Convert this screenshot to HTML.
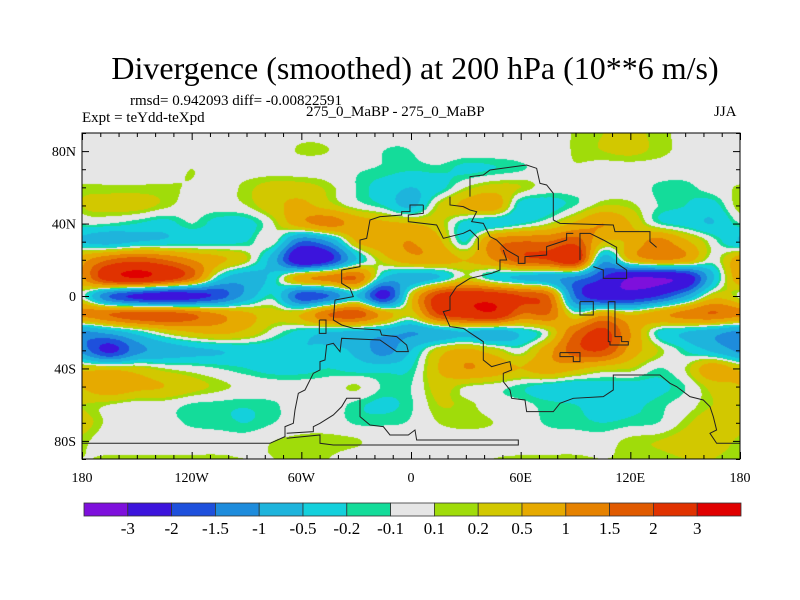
<!DOCTYPE html>
<html><head><meta charset="utf-8">
<style>
body{margin:0;background:#fff;width:800px;height:600px;overflow:hidden;position:relative;font-family:"Liberation Serif",serif;}
.t{position:absolute;white-space:nowrap;color:#000;}
canvas{position:absolute;left:82px;top:133px;}
svg{position:absolute;left:0;top:0;}
</style></head><body>
<div class="t" style="left:0;width:830px;text-align:center;top:50px;font-size:32px;">Divergence (smoothed) at 200 hPa (10**6 m/s)</div>
<div class="t" style="left:130px;top:93px;font-size:15px;">rmsd= 0.942093 diff= -0.00822591</div>
<div class="t" style="left:82px;top:110px;font-size:15px;">Expt = teYdd-teXpd</div>
<div class="t" style="left:306px;top:104px;font-size:15px;">275_0_MaBP - 275_0_MaBP</div>
<div class="t" style="left:714px;top:104px;font-size:15px;">JJA</div>
<canvas id="map" width="658" height="326"></canvas>
<svg id="ov" width="800" height="600"></svg>
<script>
const lats=[90,80,70,60,50,40,30,20,10,0,-10,-20,-30,-40,-50,-60,-70,-80,-90];
const lons=[-180,-165,-150,-135,-120,-105,-90,-75,-60,-45,-30,-15,0,15,30,45,60,75,90,105,120,135,150,165];
const row90=[0,0,0,0,0,0,0,0,0.05,0.05,0,-0.05,-0.05,0,0,0,0,0,0.12,0.2,0.25,0.15,0.05,0];
const row80=[0,0,0,0,0,0,0,0,0.12,0.1,0,-0.1,-0.1,0.05,0,0,0,0,0.12,0.2,0.25,0.15,0.05,0];
const row70=[0,0,0,0,0.1,0,0,0,0,0,-0.08,-0.12,-0.18,-0.15,-0.25,-0.2,-0.12,0,0.08,0,0,0,0,0];
const row60=[0.12,0.12,0.12,0.12,0.08,0,0.15,0.3,0.3,0.15,-0.1,-0.3,-0.5,-0.3,0.1,0.3,0.2,0,0,0,0,-0.12,-0.15,0];
const row50=[0.2,0.3,0.3,0.15,0,0,0.1,0.4,0.6,0.3,0,-0.2,-0.6,0.2,0.6,0.8,-0.3,-0.3,-0.1,0.2,0.15,-0.1,-0.2,-0.3];
const row40=[-0.1,-0.1,-0.2,-0.3,-0.1,-0.3,-0.3,0.1,0.8,1.2,0.8,0.6,0.5,0.3,-0.3,-0.4,-0.2,0.1,0.6,1.0,0.5,-0.1,-0.3,-0.5];
const row30=[-0.5,-0.7,-0.5,-0.4,-0.3,-0.3,-0.2,0,-1.5,-1.0,0.5,0.8,1.0,0.6,-0.2,1.2,1.5,1.5,1.8,0.5,0.6,1.2,0.6,0];
const row20=[0.8,1.5,1.8,1.5,1.0,0.6,0.2,-0.8,-2.8,-2.2,-0.5,0.3,0.8,0.8,0.5,1.0,1.8,2.0,2.5,-0.8,0.5,1.0,0.8,0];
const row10=[0.9,2.5,3.0,2.5,1.5,-0.3,-0.8,-0.3,0.8,1.2,1.5,-0.5,-0.8,-0.5,0.2,-0.3,-0.6,-0.8,-1.2,-2.0,-3.0,-3.0,-2.6,-0.6];
const row0=[0,-1.5,-2.2,-2.5,-2.3,-1.8,-0.8,-0.2,-1.8,-1.5,-0.5,-2.3,0.3,2.2,2.6,2.5,2.0,1.5,-1.5,-2.5,-2.5,-2.0,-1.0,0.3];
const rowS10=[1.2,1.5,1.8,1.8,1.5,1.0,0.6,0.3,0.5,1.5,1.8,0.8,0.3,2.0,2.5,2.8,1.5,1.5,0.1,0.8,0.4,0.8,1.2,1.5];
const rowS20=[-1.1,-0.8,-0.3,0.2,0.5,0.6,0.4,0,-0.3,-0.5,-0.6,-0.8,-1.0,-0.8,-0.5,-0.8,-0.4,0.1,1.5,2.2,1.0,-0.2,-0.5,-0.8];
const rowS30=[-1.2,-2.2,-1.2,-0.8,-0.6,-0.5,-0.4,-0.4,-0.5,-0.4,-0.6,-1.2,-0.5,0.3,0.6,0.3,0,0.8,1.8,2.0,0.8,0.2,-0.2,-0.6];
const rowS40=[0.4,0.4,0.3,0.1,0,-0.1,-0.2,-0.3,-0.3,-0.2,-0.3,-0.3,-0.2,0.5,1.0,0.8,0.5,0.8,0.6,0.3,0.2,-0.1,0.1,0.8];
const rowS50=[0.5,0.8,0.6,0.5,0.3,0.15,0.05,0,0,0,0.12,-0.12,-0.1,0.3,0.1,0,-0.15,-0.3,-0.4,-0.3,-0.3,-0.25,-0.1,0.3];
const rowS60=[0.2,0.1,0,0,-0.12,-0.15,-0.18,-0.12,0,0,-0.15,-0.25,-0.12,0.2,0.15,0,-0.05,-0.15,-0.2,-0.3,-0.25,-0.15,0,0.2];
const rowS70=[0.3,0.05,0,-0.05,-0.12,-0.15,-0.2,-0.1,0,0,-0.12,-0.12,-0.08,0.1,0.15,0.1,0,-0.12,-0.15,-0.2,-0.15,-0.1,0.15,0.35];
const rowS80=[0.15,0,0,0,0,0,0,0.1,0.15,0.15,0.12,0,0,0,0,0,0,0,0,0,0.15,0.2,0.3,0.35];
const rowS90=[0.1,0.12,0.12,0.12,0.12,0.12,0.1,0.1,0.15,0.1,0,0,0,0,0.05,0.1,0.12,0.12,0.12,0.1,0.12,0.15,0.2,0.2];
const grid=[row90,row80,row70,row60,row50,row40,row30,row20,row10,row0,rowS10,rowS20,rowS30,rowS40,rowS50,rowS60,rowS70,rowS80,rowS90];
const levels=[-3,-2,-1.5,-1,-0.5,-0.2,-0.1,0.1,0.2,0.5,1,1.5,2,3];
const levelLabels=["-3","-2","-1.5","-1","-0.5","-0.2","-0.1","0.1","0.2","0.5","1","1.5","2","3"];
const colors=["#7e10dc","#3c14dc","#1e50dc","#1e8cdc","#1eb4dc","#14d0dc","#14dc9a","#e6e6e6","#a0dc0a","#d2c800","#e6aa00","#e68200","#e05a00","#e03200","#e00000"];
const lonTicks=[-180,-120,-60,0,60,120,180];
const lonLabels=["180","120W","60W","0","60E","120E","180"];
const latTicks=[80,40,0,-40,-80];
const latLabels=["80N","40N","0","40S","80S"];

const X0=82,X1=740,Y0=133,Y1=459;
const xs=lon=>X0+(lon+180)/360*(X1-X0);
const ys=lat=>Y0+(90-lat)/180*(Y1-Y0);
function cr(p0,p1,p2,p3,t){return 0.5*(2*p1+(-p0+p2)*t+(2*p0-5*p1+4*p2-p3)*t*t+(-p0+3*p1-3*p2+p3)*t*t*t);}
function val(lon,lat){
  const nc=lons.length, nr=lats.length;
  let fx=(lon+180)/15, fy=(90-lat)/10;
  let ix=Math.floor(fx), iy=Math.floor(fy); let tx=fx-ix, ty=fy-iy;
  if(iy>=nr-1){iy=nr-2;ty=1;}
  const g=(r,c)=>grid[Math.max(0,Math.min(nr-1,r))][((c%nc)+nc)%nc];
  const rv=[];
  for(let k=-1;k<3;k++){const r=iy+k;rv.push(cr(g(r,ix-1),g(r,ix),g(r,ix+1),g(r,ix+2),tx));}
  return cr(rv[0],rv[1],rv[2],rv[3],ty);
}
function hex(c){return [parseInt(c.slice(1,3),16),parseInt(c.slice(3,5),16),parseInt(c.slice(5,7),16)];}
const rgb=colors.map(hex);
const cv=document.getElementById('map');const ctx=cv.getContext('2d');
const W=cv.width,H=cv.height;const img=ctx.createImageData(W,H);
for(let j=0;j<H;j++){const lat=90-(j+0.5)/H*180;
 for(let i=0;i<W;i++){const lon=-180+(i+0.5)/W*360;const v=val(lon,lat);
  let k=0;while(k<levels.length&&v>=levels[k])k++;
  const c=rgb[k];const o=(j*W+i)*4;img.data[o]=c[0];img.data[o+1]=c[1];img.data[o+2]=c[2];img.data[o+3]=255;}}
ctx.putImageData(img,0,0);

const NS='http://www.w3.org/2000/svg';const ov=document.getElementById('ov');
function mk(tag,attrs){const e=document.createElementNS(NS,tag);for(const k in attrs)e.setAttribute(k,attrs[k]);ov.appendChild(e);return e;}
const coasts=[
"600,110 600,50 640,45 660,30 770,15 800,25 810,70 830,75 850,100 850,180 870,190 1030,195 1035,215 1140,215 1140,245 1160,262",
"930,300 930,220 960,220 1000,240 1040,262 1040,310 1070,330 1070,355 1000,355 1000,330 970,320",
"540,110 540,135 580,140 600,150 620,155 605,185 640,190 660,230 680,240 710,270 745,290 745,310 765,310 765,290 830,285 830,260 890,240 890,220 910,220",
"460,135 420,135 420,155 395,155 395,165 330,170 300,180 290,235 270,240 270,320 215,330 215,370 240,385 250,410 195,420 190,480 215,495 250,505 330,510 335,525 380,530 410,555 415,575 380,575 330,540 215,535 210,575 190,550 170,555 165,600 150,605 150,630 130,640 105,690 85,700 75,750 70,790 45,800 45,830 0,850 -564,850",
"460,135 460,160 415,165 415,185 500,195 520,235 580,220 600,210 625,235 625,270",
"700,270 710,300 690,300 690,330 665,340 600,355 560,380 540,410 540,450 520,455 540,500 580,505 640,545 640,600 665,620 700,610 720,605 725,630 700,640 700,665 720,690 725,715 765,720 770,755 850,755 870,730 910,715 1000,710 1030,690 1030,670 1030,645 1170,645 1200,670 1220,680 1260,710 1300,720 1320,740 1330,770 1340,810 1320,820 1340,850 1410,850",
"50,835 150,825 150,850 190,855 745,855 745,840 440,840 435,810 415,825 360,825 340,800 300,795 270,770 270,715 230,715 215,740 190,765 150,790 130,800 130,815 50,820",
"148,480 168,480 168,520 148,520 148,480",
"930,425 970,425 970,465 930,465 930,425",
"1015,425 1035,425 1035,530 1055,530 1055,545 1075,545 1075,555 1020,555 1020,545 1015,545 1015,425",
"870,578 930,578 930,605 910,605 910,590 870,590 870,578"];
const g=mk('g',{transform:'translate(270,160) scale(0.3333)'});


coasts.forEach(p=>{const e=document.createElementNS(NS,'polyline');e.setAttribute('points',p);e.setAttribute('fill','none');e.setAttribute('stroke','#222');e.setAttribute('stroke-width','1');e.setAttribute('vector-effect','non-scaling-stroke');


g.appendChild(e);});
const fr=mk('rect',{x:X0,y:Y0,width:X1-X0,height:Y1-Y0,fill:'none',stroke:'#000','stroke-width':1});


for(let lon=-180;lon<=180;lon+=10){const x=xs(lon)+0.5;const maj=lon%60===0;const L=maj?7:4;
 const t1=mk('line',{x1:x,x2:x,y1:Y1,y2:Y1-L,stroke:'#000'});
 const t2=mk('line',{x1:x,x2:x,y1:Y0,y2:Y0+L,stroke:'#000'});}
for(let lat=-90;lat<=90;lat+=10){const y=ys(lat)+0.5;const maj=lat%40===0&&Math.abs(lat)!==90?1:0;const L=maj?7:4;
 const t1=mk('line',{x1:X0,x2:X0+L,y1:y,y2:y,stroke:'#000'});
 const t2=mk('line',{x1:X1,x2:X1-L,y1:y,y2:y,stroke:'#000'});}
lonTicks.forEach((lon,i)=>{const t=mk('text',{x:xs(lon),y:482,'text-anchor':'middle','font-size':14,'font-family':'Liberation Serif, serif'});t.textContent=lonLabels[i];
 });
latTicks.forEach((lat,i)=>{const t=mk('text',{x:X0-6,y:ys(lat)+5,'text-anchor':'end','font-size':14,'font-family':'Liberation Serif, serif'});t.textContent=latLabels[i];
 });
const CB0=84,CB1=741,CBY=503,CBH=13;const bw=(CB1-CB0)/colors.length;
colors.forEach((c,i)=>{const r=mk('rect',{x:CB0+i*bw,y:CBY,width:bw,height:CBH,fill:c,stroke:'#333','stroke-width':0.8});
 });
levelLabels.forEach((l,i)=>{const t=mk('text',{x:CB0+(i+1)*bw,y:534,'text-anchor':'middle','font-size':17,'font-family':'Liberation Serif, serif'});t.textContent=l;
 });
</script>
</body></html>
